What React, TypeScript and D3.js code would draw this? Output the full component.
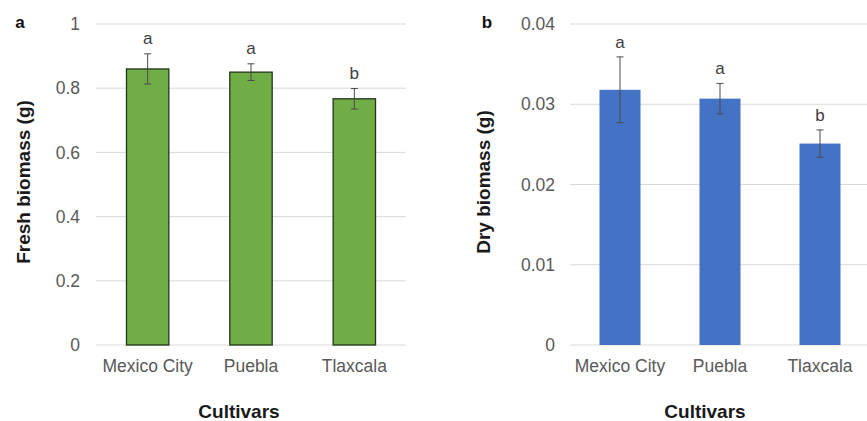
import React from "react";
import * as d3 from "d3";

const categories = ["Mexico City", "Puebla", "Tlaxcala"];
const freshMeans = [0.86, 0.85, 0.767];
const freshErrors = [0.047, 0.026, 0.032];
const freshLetters = ["a", "a", "b"];
const freshTicks = [0, 0.2, 0.4, 0.6, 0.8, 1];
const dryMeans = [0.0318, 0.0307, 0.0251];
const dryErrors = [0.0041, 0.0019, 0.0017];
const dryLetters = ["a", "a", "b"];
const dryTicks = [0, 0.01, 0.02, 0.03, 0.04];

const FONT = "'Liberation Sans', Arial, sans-serif";

type PanelProps = {
  label: string;
  means: number[];
  errors: number[];
  letters: string[];
  ticks: number[];
  tickFmt: (v: number) => string;
  yMax: number;
  x0: number;
  x1: number;
  gridX1: number;
  tickRight: number;
  titleX: number;
  yTitle: string;
  panelLabelX: number;
  cultivarsX: number;
  fill: string;
  stroke: string | null;
  barFrac: number;
  letterGap: number;
};

function Panel(p: PanelProps) {
  const y = d3.scaleLinear().domain([0, p.yMax]).range([345, 24]);
  const x = d3.scaleBand<string>().domain(categories).range([p.x0, p.x1]).padding(0);
  const bw = x.bandwidth() * p.barFrac;
  const cap = 3.5;
  return (
    <g fontFamily={FONT}>
      {p.ticks.map((t) => (
        <g key={t}>
          <line x1={p.x0} x2={p.gridX1} y1={y(t)} y2={y(t)} stroke="#d9d9d9" strokeWidth={1} />
          <text x={p.tickRight} y={y(t)} dy="0.35em" textAnchor="end" fontSize={17.5} fill="#595959">
            {p.tickFmt(t)}
          </text>
        </g>
      ))}
      {categories.map((c, i) => {
        const cx = (x(c) as number) + x.bandwidth() / 2;
        const top = y(p.means[i]);
        const eTop = y(p.means[i] + p.errors[i]);
        const eBot = y(p.means[i] - p.errors[i]);
        return (
          <g key={c}>
            <rect
              x={cx - bw / 2}
              y={top}
              width={bw}
              height={y(0) - top}
              fill={p.fill}
              stroke={p.stroke || "none"}
              strokeWidth={p.stroke ? 1.3 : 0}
            />
            <line x1={cx} x2={cx} y1={eTop} y2={eBot} stroke="#4a4a4a" strokeWidth={1} />
            <line x1={cx - cap} x2={cx + cap} y1={eTop} y2={eTop} stroke="#4a4a4a" strokeWidth={1} />
            <line x1={cx - cap} x2={cx + cap} y1={eBot} y2={eBot} stroke="#4a4a4a" strokeWidth={1} />
            <text x={cx} y={eTop - p.letterGap} textAnchor="middle" fontSize={17} fill="#404040">
              {p.letters[i]}
            </text>
            <text x={cx} y={366} dy="0.35em" textAnchor="middle" fontSize={17.5} fill="#595959">
              {c}
            </text>
          </g>
        );
      })}
      <text
        transform={`translate(${p.titleX},182) rotate(-90)`}
        textAnchor="middle"
        dy="0.35em"
        fontSize={19}
        fontWeight="bold"
        fill="#1a1a1a"
      >
        {p.yTitle}
      </text>
      <text x={p.cultivarsX} y={411} dy="0.35em" textAnchor="middle" fontSize={19} fontWeight="bold" fill="#1a1a1a">
        Cultivars
      </text>
      <text x={p.panelLabelX} y={22} dy="0.35em" textAnchor="middle" fontSize={17} fontWeight="bold" fill="#111">
        {p.label}
      </text>
    </g>
  );
}

export default function App() {
  return (
    <svg
      width={867}
      height={421}
      style={{ position: "absolute", left: 0, top: 0, background: "#fff" }}
    >
      <rect width={867} height={421} fill="#fff" />
      <Panel
        label="a"
        means={freshMeans}
        errors={freshErrors}
        letters={freshLetters}
        ticks={freshTicks}
        tickFmt={(v) => String(+v.toFixed(1))}
        yMax={1}
        x0={96}
        x1={406}
        gridX1={406}
        tickRight={80}
        titleX={23}
        yTitle="Fresh biomass (g)"
        panelLabelX={20}
        cultivarsX={239}
        fill="#70AD47"
        stroke="#23351a"
        barFrac={0.41}
        letterGap={10}
      />
      <Panel
        label="b"
        means={dryMeans}
        errors={dryErrors}
        letters={dryLetters}
        ticks={dryTicks}
        tickFmt={(v) => String(+v.toFixed(2))}
        yMax={0.04}
        x0={570}
        x1={870}
        gridX1={867}
        tickRight={555}
        titleX={483}
        yTitle="Dry biomass (g)"
        panelLabelX={487}
        cultivarsX={705}
        fill="#4472C4"
        stroke={null}
        barFrac={0.41}
        letterGap={9}
      />
    </svg>
  );
}
